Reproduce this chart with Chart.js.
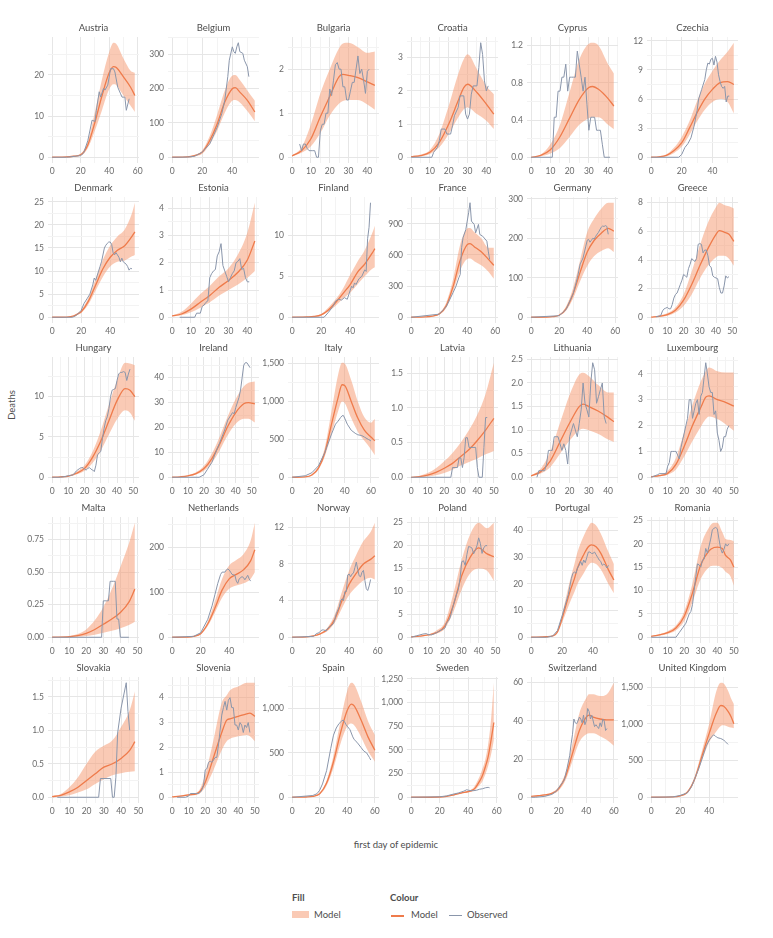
<!DOCTYPE html>
<html>
<head>
<meta charset="utf-8">
<script src="https://cdn.jsdelivr.net/npm/chart.js@4.4.1/dist/chart.umd.min.js"></script>
<style>
  body { margin: 0; background: #fff; }
  #wrap { position: relative; width: 773px; height: 938px; font-family: Lato, 'Noto Sans', sans-serif; color: #4d4d4d; }
  #wrap canvas { position: absolute; }
  .lbl { position: absolute; font-size: 9.5px; white-space: nowrap; line-height: 1; }
  .bold { font-weight: bold; }
</style>
</head>
<body>
<div id="wrap">
  <div class="lbl" style="left:12px; top:405px; transform: translate(-50%,-50%) rotate(-90deg);">Deaths</div>
  <div class="lbl" style="left:396px; top:845px; transform: translate(-50%,-50%);">first day of epidemic</div>

  <div class="lbl bold" style="left:292px; top:893px;">Fill</div>
  <div style="position:absolute; left:292px; top:911px; width:17px; height:7px; background:rgba(245,150,108,0.5);"></div>
  <div class="lbl" style="left:314px; top:910px;">Model</div>

  <div class="lbl bold" style="left:390px; top:893px;">Colour</div>
  <div style="position:absolute; left:391px; top:915px; width:13px; height:2px; background:#ef7b4b;"></div>
  <div class="lbl" style="left:411px; top:910px;">Model</div>
  <div style="position:absolute; left:449px; top:915px; width:13px; height:1px; background:#8a96ab;"></div>
  <div class="lbl" style="left:467px; top:910px;">Observed</div>
</div>
<script>
// Dane: jeden wpis na kraj, w tej samej kolejnosci co panele
const countries = ['Austria', 'Belgium', 'Bulgaria', 'Croatia', 'Cyprus', 'Czechia',
    'Denmark', 'Estonia', 'Finland', 'France', 'Germany', 'Greece',
    'Hungary', 'Ireland', 'Italy', 'Latvia', 'Lithuania', 'Luxembourg',
    'Malta', 'Netherlands', 'Norway', 'Poland', 'Portugal', 'Romania',
    'Slovakia', 'Slovenia', 'Spain', 'Sweden', 'Switzerland', 'United Kingdom'];

const xTicks = [
    [0, 20, 40, 60], [0, 20, 40], [0, 10, 20, 30, 40], [0, 10, 20, 30, 40], [0, 10, 20, 30, 40], [0, 20, 40],
    [0, 20, 40, 60], [0, 10, 20, 30, 40], [0, 20, 40, 60], [0, 20, 40, 60], [0, 20, 40, 60], [0, 10, 20, 30, 40, 50],
    [0, 10, 20, 30, 40, 50], [0, 10, 20, 30, 40, 50], [0, 20, 40, 60], [0, 10, 20, 30, 40, 50], [0, 10, 20, 30, 40], [0, 10, 20, 30, 40, 50],
    [0, 10, 20, 30, 40, 50], [0, 20, 40], [0, 20, 40, 60], [0, 10, 20, 30, 40, 50], [0, 20, 40], [0, 10, 20, 30, 40, 50],
    [0, 10, 20, 30, 40, 50], [0, 10, 20, 30, 40, 50], [0, 20, 40, 60], [0, 20, 40, 60], [0, 20, 40, 60], [0, 20, 40]
];

const yTicks = [
    [0, 10, 20], [0, 100, 200, 300], [0, 1, 2], [0, 1, 2, 3], [0, 0.4, 0.8, 1.2], [0, 3, 6, 9, 12],
    [0, 5, 10, 15, 20, 25], [0, 1, 2, 3, 4], [0, 5, 10], [0, 300, 600, 900], [0, 100, 200, 300], [0, 2, 4, 6, 8],
    [0, 5, 10, 15], [0, 10, 20, 30, 40], [0, 500, 1000, 1500], [0, 0.5, 1, 1.5], [0, 0.5, 1, 1.5, 2, 2.5], [0, 1, 2, 3, 4],
    [0, 0.25, 0.5, 0.75], [0, 100, 200], [0, 4, 8, 12], [0, 5, 10, 15, 20, 25], [0, 10, 20, 30, 40], [0, 5, 10, 15, 20, 25],
    [0, 0.5, 1, 1.5], [0, 1, 2, 3, 4], [0, 500, 1000], [0, 250, 500, 750, 1000, 1250], [0, 20, 40, 60], [0, 500, 1000, 1500]
];

const modelDays = [
    [0, 10, 15, 20, 25, 30, 35, 40, 43, 45, 50, 55, 58],
    [0, 10, 15, 20, 25, 30, 35, 40, 42, 45, 50, 55],
    [0, 5, 10, 15, 20, 25, 27, 30, 35, 40, 44],
    [0, 5, 10, 15, 20, 25, 28, 30, 35, 40, 44],
    [0, 5, 10, 15, 20, 25, 30, 32, 35, 40, 43],
    [0, 5, 10, 15, 20, 25, 30, 35, 40, 45, 50, 54],
    [0, 10, 15, 18, 20, 25, 30, 35, 40, 45, 50, 55, 57],
    [0, 5, 10, 15, 20, 25, 30, 35, 40, 44],
    [0, 10, 15, 20, 25, 30, 35, 40, 45, 50, 55, 57],
    [0, 10, 15, 20, 25, 30, 35, 40, 42, 45, 50, 55, 59],
    [0, 10, 15, 20, 25, 30, 35, 40, 45, 50, 55, 59],
    [0, 5, 10, 15, 20, 25, 30, 35, 40, 42, 45, 48, 51],
    [0, 5, 10, 15, 20, 25, 30, 35, 40, 45, 48, 51],
    [0, 5, 10, 15, 20, 25, 30, 35, 40, 45, 48, 52],
    [0, 10, 15, 20, 25, 30, 35, 38, 40, 45, 50, 55, 60, 63],
    [0, 5, 10, 15, 20, 25, 30, 35, 40, 45, 50],
    [0, 5, 10, 15, 20, 25, 27, 30, 35, 40, 43],
    [0, 5, 10, 15, 20, 25, 30, 33, 35, 40, 45, 50],
    [0, 10, 15, 20, 25, 30, 35, 40, 45, 48.5],
    [0, 10, 15, 20, 25, 30, 35, 40, 45, 50, 55, 58],
    [0, 10, 15, 20, 25, 30, 35, 40, 45, 50, 55, 58],
    [0, 5, 10, 15, 20, 25, 30, 35, 40, 45, 49],
    [0, 10, 14, 17, 20, 22, 25, 28, 30, 34, 37, 39, 42, 45, 50, 53.5],
    [0, 5, 10, 15, 20, 25, 30, 35, 38, 40, 43, 45, 48, 50],
    [0, 5, 10, 15, 20, 25, 30, 35, 40, 45, 48],
    [0, 5, 10, 15, 17, 20, 25, 30, 33, 35, 40, 45, 47, 50],
    [0, 10, 15, 20, 25, 30, 35, 40, 43, 45, 50, 55, 60],
    [0, 20, 25, 30, 35, 40, 43, 45, 48, 50, 52, 54, 56, 58],
    [0, 5, 10, 15, 20, 25, 30, 35, 40, 42, 45, 50, 55, 60],
    [0, 15, 20, 25, 30, 35, 40, 45, 48, 50, 53, 55, 57]
];

const modelMean = [
    [0, 0.1, 0.25, 0.6, 3, 8.5, 15, 20.5, 22, 21.8, 19.5, 17, 15],
    [0, 1, 5, 15, 49, 98, 161, 200, 203, 190, 166, 132],
    [0.03, 0.15, 0.42, 0.92, 1.38, 1.83, 1.88, 1.86, 1.81, 1.71, 1.63],
    [0.02, 0.05, 0.15, 0.45, 1.0, 1.7, 2.1, 2.2, 1.95, 1.6, 1.3],
    [0, 0.02, 0.08, 0.22, 0.42, 0.62, 0.75, 0.76, 0.73, 0.63, 0.55],
    [0, 0.05, 0.2, 0.7, 1.5, 3.0, 4.6, 6.0, 7.0, 7.7, 7.8, 7.5],
    [0, 0.05, 0.3, 0.8, 1.2, 3.5, 7.0, 10.5, 13.0, 14.5, 15.5, 17.5, 18.5],
    [0.05, 0.12, 0.3, 0.55, 0.8, 1.1, 1.35, 1.65, 2.1, 2.8],
    [0, 0.05, 0.1, 0.3, 0.9, 1.8, 2.9, 4.0, 5.5, 6.5, 7.8, 8.4],
    [0, 3, 10, 32, 110, 300, 550, 700, 710, 680, 630, 560, 500],
    [0, 0.5, 1.5, 5, 22, 60, 115, 165, 195, 213, 225, 218],
    [0.02, 0.08, 0.2, 0.5, 1.2, 2.3, 3.6, 4.8, 5.8, 6.05, 5.95, 5.8, 5.3],
    [0, 0.05, 0.15, 0.5, 1.1, 2.5, 4.5, 7.0, 9.5, 11.0, 10.8, 10.0],
    [0, 0.2, 0.6, 1.5, 3.5, 7.5, 13.5, 20.5, 26.0, 29.5, 30.0, 29.5],
    [0, 5, 30, 120, 330, 700, 1050, 1220, 1210, 1000, 780, 620, 530, 480],
    [0, 0.01, 0.03, 0.07, 0.13, 0.2, 0.3, 0.4, 0.53, 0.68, 0.85],
    [0.03, 0.12, 0.35, 0.75, 1.15, 1.5, 1.55, 1.5, 1.4, 1.27, 1.18],
    [0.02, 0.06, 0.15, 0.5, 1.2, 2.0, 2.7, 3.1, 3.15, 3.0, 2.9, 2.75],
    [0, 0.004, 0.012, 0.03, 0.06, 0.1, 0.14, 0.19, 0.27, 0.37],
    [0, 0.5, 2, 8, 30, 65, 105, 130, 140, 150, 170, 195],
    [0, 0.05, 0.15, 0.4, 0.9, 2.0, 4.0, 5.8, 7.0, 8.0, 8.5, 8.9],
    [0.1, 0.25, 0.5, 1.0, 2.5, 7, 13.5, 17.5, 19.5, 18.2, 17.6],
    [0, 0.2, 0.5, 2, 7, 11, 17, 22, 26, 31, 34, 34.7, 34, 31.6, 25.3, 21.5],
    [0.2, 0.5, 1.0, 2.0, 4.5, 9.5, 15.5, 18.5, 19.2, 19.3, 19.0, 17.5, 16.5, 15.0],
    [0.01, 0.03, 0.08, 0.15, 0.25, 0.35, 0.45, 0.5, 0.58, 0.7, 0.83],
    [0.02, 0.05, 0.1, 0.15, 0.25, 0.6, 1.6, 2.6, 3.1, 3.15, 3.25, 3.35, 3.38, 3.25],
    [0, 3, 10, 40, 160, 400, 720, 980, 1050, 1030, 870, 680, 530],
    [0, 3, 10, 25, 45, 60, 75, 100, 170, 230, 320, 430, 600, 790],
    [0.5, 0.8, 1.2, 2, 4.5, 11, 23, 35, 42, 43, 42, 41, 40.5, 40.5],
    [0, 5, 20, 70, 250, 560, 870, 1150, 1250, 1240, 1170, 1100, 1000]
];

const modelLow = [
    [0, 0.05, 0.15, 0.4, 2.2, 6.5, 11.5, 16.5, 17.7, 17.5, 15, 12.5, 11],
    [0, 0.5, 3, 10, 38, 78, 130, 165, 167, 160, 135, 105],
    [0.02, 0.1, 0.25, 0.55, 0.95, 1.22, 1.28, 1.3, 1.3, 1.2, 1.08],
    [0.01, 0.03, 0.1, 0.3, 0.7, 1.2, 1.45, 1.5, 1.3, 1.1, 0.85],
    [0, 0.01, 0.04, 0.1, 0.22, 0.35, 0.42, 0.43, 0.43, 0.35, 0.3],
    [0, 0.03, 0.12, 0.45, 1.1, 2.3, 3.7, 4.9, 5.7, 6.0, 5.7, 4.5],
    [0, 0.03, 0.2, 0.6, 0.9, 2.8, 5.8, 8.8, 11.0, 12.0, 12.3, 13.2, 13.5],
    [0.03, 0.07, 0.18, 0.35, 0.55, 0.8, 1.0, 1.2, 1.45, 1.7],
    [0, 0.03, 0.07, 0.2, 0.7, 1.4, 2.3, 3.0, 4.0, 5.0, 5.9, 6.1],
    [0, 2, 7, 25, 90, 250, 450, 560, 565, 540, 500, 440, 370],
    [0, 0.3, 1, 4, 17, 48, 92, 130, 155, 168, 175, 165],
    [0.01, 0.05, 0.12, 0.35, 0.8, 1.6, 2.7, 3.6, 4.2, 4.3, 4.3, 4.1, 3.6],
    [0, 0.03, 0.1, 0.35, 0.8, 1.8, 3.3, 5.3, 7.2, 8.3, 8.0, 7.0],
    [0, 0.1, 0.4, 1.1, 2.6, 5.8, 11.0, 17.0, 21.5, 23.5, 23.5, 22.0],
    [0, 3, 20, 100, 280, 570, 870, 1000, 980, 780, 600, 480, 370, 290],
    [0, 0.005, 0.01, 0.03, 0.06, 0.11, 0.17, 0.22, 0.27, 0.33, 0.38],
    [0.02, 0.08, 0.22, 0.5, 0.78, 1.0, 1.03, 1.0, 0.92, 0.8, 0.75],
    [0.01, 0.04, 0.1, 0.3, 0.8, 1.4, 1.95, 2.25, 2.35, 2.25, 2.05, 1.8],
    [0, 0.001, 0.004, 0.01, 0.02, 0.035, 0.05, 0.07, 0.095, 0.12],
    [0, 0.3, 1.5, 6, 25, 55, 88, 108, 115, 120, 130, 145],
    [0, 0.03, 0.1, 0.3, 0.7, 1.6, 3.2, 4.6, 5.5, 6.2, 6.5, 6.3],
    [0.05, 0.15, 0.4, 0.8, 1.9, 5.5, 10.5, 14.0, 15.0, 14.5, 12.3],
    [0, 0.15, 0.4, 1.5, 5.5, 8.5, 13, 17, 20, 24, 27, 28, 27.5, 25.5, 20, 16.5],
    [0.15, 0.35, 0.7, 1.5, 3.5, 7.5, 12.5, 15.0, 15.3, 15.3, 14.8, 14.0, 13.0, 11.0],
    [0.005, 0.01, 0.03, 0.07, 0.12, 0.2, 0.27, 0.33, 0.36, 0.38, 0.39],
    [0.01, 0.03, 0.07, 0.1, 0.17, 0.4, 1.1, 1.9, 2.25, 2.35, 2.45, 2.5, 2.45, 2.25],
    [0, 2, 7, 30, 130, 330, 600, 800, 830, 810, 680, 520, 400],
    [0, 2, 8, 20, 38, 50, 60, 80, 130, 170, 240, 330, 450, 600],
    [0.3, 0.5, 0.8, 1.5, 3.5, 9, 19, 29, 33, 33.5, 33.5, 32, 30, 27],
    [0, 4, 15, 55, 220, 500, 750, 900, 970, 980, 960, 950, 940]
];

const modelHigh = [
    [0, 0.15, 0.35, 0.8, 3.8, 11, 19, 25.5, 27.8, 27.5, 24, 21, 20.5],
    [0, 1.5, 7, 20, 62, 125, 195, 238, 240, 225, 195, 165],
    [0.04, 0.22, 0.75, 1.45, 2.0, 2.48, 2.58, 2.6, 2.5, 2.37, 2.4],
    [0.03, 0.08, 0.22, 0.7, 1.55, 2.5, 2.95, 3.1, 2.65, 2.15, 1.9],
    [0, 0.03, 0.14, 0.35, 0.7, 1.05, 1.22, 1.23, 1.2, 1.0, 0.9],
    [0, 0.08, 0.3, 1.0, 2.1, 3.7, 5.8, 7.6, 8.9, 10.0, 10.9, 11.8],
    [0, 0.08, 0.4, 1.0, 1.5, 4.2, 8.3, 12.5, 15.5, 17.5, 19.0, 22.5, 24.8],
    [0.06, 0.2, 0.5, 0.85, 1.15, 1.5, 1.8, 2.3, 3.1, 4.2],
    [0, 0.08, 0.15, 0.4, 1.2, 2.2, 3.5, 5.2, 6.8, 8.2, 10.2, 11.2],
    [0, 4, 13, 40, 140, 370, 700, 855, 860, 820, 760, 670, 670],
    [0, 0.7, 2, 6, 28, 75, 145, 215, 250, 275, 290, 290],
    [0.03, 0.12, 0.3, 0.7, 1.6, 3.2, 5.0, 6.6, 7.7, 8.0, 7.85, 7.75, 7.6],
    [0, 0.07, 0.2, 0.7, 1.5, 3.2, 5.8, 9.0, 12.0, 14.2, 14.1, 13.9],
    [0, 0.3, 0.8, 2.0, 4.5, 9.5, 16.5, 24.5, 31.5, 36.5, 38.0, 38.5],
    [0, 7, 40, 140, 400, 870, 1350, 1510, 1500, 1280, 1000, 790, 720, 770],
    [0, 0.02, 0.06, 0.13, 0.23, 0.35, 0.5, 0.68, 0.9, 1.2, 1.65],
    [0.04, 0.18, 0.55, 1.15, 1.75, 2.18, 2.22, 2.15, 1.95, 1.8, 1.8],
    [0.03, 0.09, 0.25, 0.75, 1.75, 2.8, 3.7, 4.1, 4.25, 4.1, 4.05, 4.05],
    [0, 0.008, 0.025, 0.06, 0.13, 0.23, 0.37, 0.54, 0.72, 0.88],
    [0, 0.7, 2.5, 10, 35, 80, 130, 160, 172, 185, 215, 255],
    [0, 0.07, 0.2, 0.5, 1.1, 2.5, 5.0, 7.3, 9.0, 10.5, 11.5, 12.5],
    [0.15, 0.35, 0.6, 1.5, 3.3, 9.5, 17.0, 22.5, 25.0, 23.8, 25.0],
    [0, 0.25, 0.6, 2.5, 8.5, 13.5, 21, 27.5, 32, 38, 41.5, 43, 42, 39, 32, 27.5],
    [0.25, 0.65, 1.3, 2.5, 5.5, 11.5, 19.5, 23.5, 24.5, 24.5, 22.5, 21.0, 20.8, 20.5],
    [0.015, 0.05, 0.15, 0.3, 0.5, 0.68, 0.77, 0.85, 1.05, 1.3, 1.58],
    [0.03, 0.07, 0.13, 0.2, 0.35, 0.9, 2.3, 3.8, 4.1, 4.3, 4.45, 4.6, 4.6, 4.6],
    [0, 4, 13, 50, 190, 470, 850, 1200, 1290, 1270, 1080, 860, 700],
    [0, 4, 12, 30, 52, 70, 90, 130, 220, 300, 400, 560, 820, 1210],
    [0.7, 1.1, 1.6, 2.5, 5.5, 13, 28, 44, 52, 54, 54, 53, 54, 60],
    [0, 6, 25, 85, 280, 630, 1000, 1450, 1560, 1550, 1450, 1350, 1270]
];

const obsDays = [
    [0, 10, 20, 22, 23, 25, 28, 30, 31, 33, 34, 36, 37, 39, 41, 43, 44, 46, 48, 49, 51, 52, 54],
    [0, 10, 15, 20, 25, 30, 33, 35, 37, 38, 40, 41, 42, 43, 44, 45, 47, 48, 50, 51],
    [4, 5, 6, 7, 8, 9, 10, 11, 12, 13, 14, 15, 16, 17, 18, 19, 20, 21, 22, 23, 24, 25, 26, 27, 28, 29, 30, 31, 32, 33, 34, 35, 36, 37, 38, 39, 40, 41],
    [0, 11, 12, 14, 15, 16, 18, 19, 21, 22, 23, 25, 26, 28, 29, 30, 31, 32, 33, 35, 36, 37, 38, 39, 40, 41],
    [0, 11, 12, 13, 14, 15, 16, 17, 18, 19, 20, 21, 22, 23, 24, 25, 26, 27, 28, 29, 30, 31, 32, 33, 34, 35, 36, 37, 38, 41],
    [0, 18, 20, 22, 24, 26, 28, 30, 31, 33, 35, 36, 37, 38, 39, 40, 41, 42, 43, 44, 45, 46, 47, 48, 49, 50, 51],
    [0, 14, 16, 18, 20, 22, 24, 26, 28, 29, 30, 32, 33, 34, 36, 37, 38, 39, 40, 41, 42, 43, 44, 45, 46, 47, 48, 49, 51, 52, 53, 54, 55],
    [4, 12, 13, 15, 16, 17, 18, 19, 20, 21, 22, 23, 24, 25, 26, 27, 28, 29, 30, 31, 32, 33, 34, 35, 36, 37, 38, 39, 40, 41],
    [0, 22, 25, 28, 30, 32, 34, 36, 38, 40, 41, 42, 43, 44, 46, 48, 50, 51, 52, 53, 54],
    [0, 20, 25, 30, 32, 34, 35, 36, 37, 39, 40, 41, 42, 43, 45, 46, 48, 49, 51, 54, 55, 56],
    [0, 20, 25, 30, 33, 35, 37, 39, 40, 41, 42, 43, 44, 45, 46, 48, 50, 51, 52, 53, 54, 55],
    [3, 5, 6, 7, 8, 9, 10, 11, 12, 13, 14, 15, 16, 17, 18, 19, 20, 21, 22, 23, 24, 25, 26, 27, 28, 29, 30, 31, 32, 33, 34, 35, 36, 37, 38, 39, 40, 41, 42, 43, 44, 45, 46, 47, 48],
    [0, 5, 8, 10, 13, 15, 17, 18, 19, 20, 21, 22, 23, 24, 25, 26, 27, 28, 29, 30, 31, 32, 33, 34, 35, 36, 37, 38, 39, 40, 41, 42, 43, 44, 45, 46, 47, 48],
    [0, 17, 20, 22, 25, 28, 30, 33, 35, 37, 38, 39, 40, 42, 43, 44, 45, 46, 47, 49],
    [0, 10, 15, 20, 25, 30, 33, 35, 37, 38, 39, 40, 42, 45, 48, 50, 53, 55, 58, 60],
    [0, 24, 25, 28, 29, 30, 31, 32, 33, 34, 35, 39, 40, 41, 43, 44, 45, 46],
    [3, 4, 5, 6, 7, 8, 9, 10, 11, 12, 13, 14, 15, 16, 17, 18, 19, 20, 21, 22, 23, 24, 25, 26, 27, 28, 29, 30, 31, 32, 33, 34, 35, 36, 37, 38, 39],
    [0, 4, 5, 9, 10, 11, 12, 13, 14, 15, 16, 17, 18, 19, 20, 21, 22, 23, 24, 25, 26, 27, 28, 29, 30, 31, 32, 33, 34, 35, 36, 37, 38, 39, 40, 41, 42, 43, 44, 45, 46, 47],
    [0, 29, 30, 32, 33, 34, 35, 36, 37, 38, 39, 40, 45],
    [0, 15, 20, 25, 28, 30, 32, 34, 35, 37, 38, 39, 40, 41, 42, 44, 45, 46, 47, 49, 50, 51, 53, 54, 55],
    [0, 15, 17, 19, 20, 21, 22, 24, 25, 27, 29, 30, 31, 33, 34, 35, 36, 37, 38, 39, 40, 41, 42, 43, 44, 45, 46, 47, 48, 49, 50, 51, 52, 53, 54, 55],
    [0, 3, 5, 7, 9, 10, 12, 14, 16, 18, 20, 21, 22, 23, 25, 27, 28, 29, 30, 31, 32, 33, 34, 35, 36, 37, 38, 39, 40, 41, 42, 43, 44, 45],
    [0, 10, 14, 17, 20, 22, 24, 25, 26, 27, 28, 29, 30, 31, 32, 33, 34, 35, 36, 37, 38, 39, 40, 41, 42, 43, 44, 45, 46, 47, 48, 49, 50],
    [0, 15, 17, 19, 21, 23, 24, 25, 26, 27, 28, 29, 30, 31, 32, 33, 34, 35, 36, 37, 38, 39, 40, 41, 42, 43, 44, 45, 46, 47],
    [3, 27, 28, 34, 35, 36, 37, 38, 40, 43, 44, 45],
    [3, 8, 10, 11, 12, 14, 16, 17, 18, 19, 20, 21, 22, 23, 24, 25, 26, 27, 28, 29, 30, 31, 32, 33, 34, 35, 36, 37, 38, 39, 40, 41, 42, 43, 44, 45, 46, 47],
    [0, 15, 18, 20, 22, 25, 28, 30, 32, 34, 36, 37, 38, 39, 40, 41, 42, 44, 45, 47, 48, 50, 52, 54, 56, 57],
    [0, 20, 25, 30, 33, 35, 37, 39, 40, 42, 44, 46, 48, 50, 52, 54, 55],
    [0, 3, 10, 15, 18, 20, 22, 24, 26, 28, 29, 30, 31, 32, 33, 34, 35, 36, 37, 38, 39, 40, 41, 42, 43, 44, 45, 46, 47, 48, 49, 50, 51, 52, 53, 54, 55],
    [0, 15, 20, 25, 28, 30, 33, 35, 38, 40, 42, 43, 44, 45, 46, 48, 50, 51, 52, 53]
];

const obsDeaths = [
    [0, 0, 0.4, 1, 2, 4, 9, 8.7, 11.4, 15.9, 14.6, 16.7, 16.3, 17.5, 21.5, 21.5, 20.7, 17, 15.4, 14.6, 14.6, 11.4, 14.2],
    [0, 0.5, 3, 15, 39, 88, 127, 166, 235, 283, 322, 308, 303, 322, 334, 308, 303, 283, 264, 235],
    [0.3, 0.15, 0.3, 0.3, 0.2, 0.15, 0.15, 0.15, 0.15, 0, 0, 0.6, 0.75, 0.75, 1.0, 1.0, 1.55, 1.4, 1.75, 2.1, 2.15, 2.0, 2.0, 1.6, 1.6, 1.3, 1.3, 1.5, 1.7, 1.7, 2.0, 2.3, 1.9, 2.0, 1.75, 1.45, 1.95, 2.0],
    [0, 0, 0.15, 0.3, 0.5, 0.85, 0.85, 0.7, 0.7, 0.95, 1.25, 1.5, 1.85, 1.85, 1.3, 1.15, 1.3, 1.9, 2.15, 2.15, 2.7, 3.45, 3.1, 2.3, 2.0, 2.15],
    [0, 0, 0.43, 0.43, 0.71, 0.71, 0.86, 0.86, 1.0, 0.71, 0.86, 0.86, 0.86, 0.86, 1.14, 1.0, 0.86, 0.71, 0.86, 0.57, 0.29, 0.43, 0.43, 0.43, 0.29, 0.29, 0.29, 0.14, 0, 0],
    [0, 0, 0.3, 1.0, 1.4, 2.0, 3.2, 4.8, 6.0, 7.0, 8.0, 9.0, 9.7, 9.6, 10.1, 10.2, 9.5, 10.4, 9.8, 8.5, 7.8, 7.3, 7.1, 7.3, 5.7, 6.3, 6.3],
    [0, 0, 0.3, 0.8, 1.5, 3.0, 4.0, 5.0, 7.0, 8.5, 8.0, 10.0, 11.0, 12.0, 15.0, 15.6, 16.0, 16.3, 16.3, 15.8, 14.0, 13.5, 14.0, 13.5, 13.0, 12.0, 12.8, 12.0, 11.5, 11.0, 10.2, 10.6, 10.5],
    [0, 0, 0.15, 0.15, 0.4, 0.45, 0.55, 0.6, 1.45, 1.6, 1.7, 1.75, 2.25, 2.4, 2.7, 1.9, 1.7, 1.5, 1.3, 1.45, 1.6, 1.7, 2.0, 2.05, 2.15, 1.75, 1.8, 1.45, 1.3, 1.3],
    [0, 0, 0.6, 1.3, 2.0, 2.2, 2.1, 2.4, 2.2, 3.3, 3.8, 3.6, 4.2, 4.0, 4.7, 5.0, 5.8, 5.6, 9.6, 11.0, 14.0],
    [0, 30, 100, 240, 300, 380, 412, 670, 765, 845, 926, 1006, 1103, 926, 894, 813, 894, 797, 781, 733, 637, 556],
    [0, 4, 20, 60, 100, 135, 150, 180, 195, 197, 190, 195, 200, 198, 205, 215, 228, 231, 230, 232, 230, 210],
    [0.05, 0.1, 0.15, 0.45, 0.6, 0.65, 0.7, 0.6, 0.6, 0.9, 1.35, 1.6, 1.7, 2.0, 2.3, 2.6, 3.0, 2.9, 2.8, 3.4, 3.7, 4.1, 4.0, 3.9, 4.1, 5.1, 5.15, 5.1, 4.5, 4.7, 4.7, 4.3, 3.6, 3.5, 2.9, 2.8, 2.75, 2.7, 2.1, 1.7, 1.7, 2.2, 2.9, 2.75, 2.85],
    [0, 0, 0.1, 0.2, 0.3, 0.8, 1.1, 1.2, 1.2, 1.0, 0.9, 1.1, 1.2, 1.0, 0.9, 0.7, 1.5, 2.8, 3.0, 3.2, 4.8, 6.0, 7.0, 7.5, 8.5, 10.0, 10.8, 10.9, 11.0, 12.0, 12.8, 13.0, 13.0, 13.1, 13.0, 12.0, 12.8, 13.4],
    [0, 0, 1, 3, 6, 11, 14, 19, 23, 25, 26, 25.5, 28, 32, 35, 40, 45, 46, 46, 44],
    [0, 20, 60, 150, 330, 570, 700, 740, 790, 810, 815, 780, 700, 620, 580, 560, 550, 530, 500, 480],
    [0, 0, 0.14, 0.14, 0.28, 0.28, 0.14, 0.28, 0.57, 0.57, 0.43, 0.43, 0.14, 0, 0, 0.43, 0.86, 0.86],
    [0, 0.14, 0.14, 0.14, 0.14, 0.28, 0.57, 0.57, 0.57, 0.86, 0.86, 0.86, 0.71, 0.57, 0.71, 0.57, 0.28, 0.86, 1.0, 1.14, 1.0, 0.86, 1.14, 1.43, 2.0, 1.57, 1.43, 1.28, 2.0, 2.43, 2.28, 1.57, 1.71, 1.86, 2.0, 1.28, 1.14],
    [0, 0.1, 0.14, 0.14, 0.43, 0.57, 1.0, 1.0, 1.0, 1.0, 0.86, 0.71, 1.14, 1.43, 1.71, 2.0, 2.28, 3.0, 3.0, 2.28, 2.57, 2.86, 3.0, 2.43, 3.14, 3.28, 3.86, 4.43, 4.0, 3.5, 3.28, 3.28, 2.43, 2.57, 1.71, 1.43, 1.0, 1.14, 1.57, 1.57, 1.86, 2.0],
    [0, 0, 0.28, 0.28, 0.28, 0.43, 0.43, 0.43, 0.43, 0.14, 0.14, 0, 0],
    [0, 2, 10, 40, 70, 95, 120, 140, 145, 145, 150, 152, 150, 145, 140, 138, 125, 120, 130, 135, 133, 128, 138, 130, 125],
    [0, 0.1, 0.4, 0.5, 0.7, 0.8, 0.8, 0.7, 1.0, 1.2, 1.5, 2.0, 2.6, 3.3, 4.0, 4.2, 4.0, 5.0, 5.0, 6.8, 6.9, 6.6, 6.9, 7.0, 7.6, 8.2, 7.4, 6.7, 6.6, 7.1, 7.3, 6.2, 5.3, 5.1, 5.6, 6.3],
    [0, 0.3, 0.5, 0.7, 0.8, 0.6, 0.5, 0.8, 1.2, 1.6, 2.0, 3.2, 3.5, 4.2, 7.0, 9.5, 10.5, 13.0, 16.5, 16.7, 15.7, 18.0, 19.8, 19.7, 19.5, 18.2, 19.0, 20.0, 21.7, 20.5, 18.3, 19.5, 20.0, 20.0],
    [0, 0, 0.5, 2.5, 8, 12, 16, 19, 22, 24, 24.5, 24, 26, 27, 28.5, 27, 29, 28, 30, 32, 32, 31.5, 31.5, 32, 31, 30, 29, 28.5, 27, 27.5, 27, 26, 27],
    [0, 0, 1.0, 2.0, 3.0, 5.0, 5.5, 7, 10, 13, 15.7, 15.5, 15.0, 16.5, 16.7, 19.0, 18.0, 19.5, 21.0, 23, 23.3, 23.5, 23.2, 21.0, 19.0, 18.0, 18.8, 20.0, 19.5, 20.0],
    [0, 0, 0.28, 0.28, 0, 0, 0.3, 0.96, 1.33, 1.71, 1.28, 1.0],
    [0, 0, 0.05, 0.15, 0.15, 0.15, 0.15, 0.2, 0.3, 0.5, 1.1, 1.15, 1.4, 1.45, 1.4, 1.5, 1.6, 1.6, 2.1, 2.7, 3.3, 3.6, 3.85, 3.5, 3.9, 4.0, 3.6, 3.6, 2.9, 2.9, 2.7, 3.0, 2.9, 2.6, 2.9, 2.8, 3.0, 2.6],
    [0, 20, 40, 80, 150, 300, 550, 700, 780, 830, 860, 870, 850, 820, 800, 780, 760, 680, 650, 620, 600, 560, 520, 500, 450, 420],
    [0, 5, 15, 35, 45, 55, 65, 80, 75, 70, 70, 75, 85, 90, 100, 105, 100],
    [0, 0, 0.5, 1.5, 3, 5, 7, 9, 15, 22, 28, 33, 41, 39, 38.5, 40, 42, 41, 39, 43, 38, 40, 46.5, 45, 41, 43, 40, 37, 38, 37, 36, 39, 37, 41, 40, 35, 36],
    [0, 5, 25, 60, 150, 250, 400, 520, 700, 780, 830, 850, 840, 820, 810, 800, 780, 760, 740, 720]
];

// Wymiary paneli (w pikselach)
const AXIS_W = 34, PLOT_W = 91, RIGHT_PAD = 8, TOP_PAD = 20, PLOT_H = 126, X_AXIS_H = 16;
const COL_X0 = 48, COL_STEP = 119.8, ROW_Y0 = 37, ROW_STEP = 160;

const bandColor = 'rgba(245, 150, 108, 0.5)';
const modelColor = '#ef7b4b';
const obsColor = '#8a96ab';
const majorGrid = '#e6e6e6';
const minorGrid = '#f3f3f3';

Chart.defaults.font.family = "Lato, 'Noto Sans', sans-serif";
Chart.defaults.font.size = 8.5;
Chart.defaults.color = '#6b6b6b';

// Tytul panelu nad obszarem wykresu
const panelTitle = {
    id: 'panelTitle',
    afterDraw(chart, args, opts) {
        const a = chart.chartArea;
        const c = chart.ctx;
        c.save();
        c.font = "9.5px Lato, 'Noto Sans', sans-serif";
        c.fillStyle = '#4d4d4d';
        c.textAlign = 'center';
        c.textBaseline = 'middle';
        c.fillText(opts.text, (a.left + a.right) / 2, a.top - 9);
        c.restore();
    }
};

function expand(lo, hi) {
    const pad = (hi - lo) * 0.05;
    return [lo - pad, hi + pad];
}

function decimals(list) {
    return Math.max(...list.map(v => {
        const s = String(v);
        return s.includes('.') ? s.split('.')[1].length : 0;
    }));
}

function buildTicks(majors, min, max) {
    const step = majors[1] - majors[0];
    const minors = [majors[0] - step / 2].concat(majors.map(v => v + step / 2));
    return majors.concat(minors)
        .filter(v => v >= min && v <= max)
        .sort((a, b) => a - b)
        .map(v => ({ value: v }));
}

function makeAxis(majors, range, isX) {
    const dec = decimals(majors);
    const fmt = v => v.toLocaleString('en-US', { minimumFractionDigits: dec, maximumFractionDigits: dec });
    const isMajor = v => majors.some(m => Math.abs(m - v) < 1e-9);
    return {
        type: 'linear',
        min: range[0],
        max: range[1],
        afterBuildTicks: scale => { scale.ticks = buildTicks(majors, range[0], range[1]); },
        afterFit: scale => {
            if (isX) {
                scale.height = X_AXIS_H;
                scale.paddingLeft = 0;
                scale.paddingRight = 0;
            } else {
                scale.width = AXIS_W;
                scale.paddingTop = 0;
                scale.paddingBottom = 0;
            }
        },
        border: { display: false },
        grid: {
            drawTicks: false,
            lineWidth: 1,
            color: ctx => (ctx.tick && isMajor(ctx.tick.value)) ? majorGrid : minorGrid
        },
        ticks: {
            autoSkip: false,
            maxRotation: 0,
            padding: isX ? 3 : 4,
            callback: v => isMajor(v) ? fmt(v) : ''
        }
    };
}

const wrap = document.getElementById('wrap');

countries.forEach(function(name, i) {
    const col = i % 6;
    const row = Math.floor(i / 6);
    const canvas = document.createElement('canvas');
    canvas.width = AXIS_W + PLOT_W + RIGHT_PAD;
    canvas.height = TOP_PAD + PLOT_H + X_AXIS_H;
    canvas.style.left = (COL_X0 + col * COL_STEP - AXIS_W) + 'px';
    canvas.style.top = (ROW_Y0 + row * ROW_STEP - TOP_PAD) + 'px';
    wrap.appendChild(canvas);

    const pts = (xs, ys) => xs.map((x, k) => ({ x: x, y: ys[k] }));
    const allX = modelDays[i].concat(obsDays[i]);
    const allY = modelLow[i].concat(modelHigh[i], obsDeaths[i]);
    const xRange = expand(Math.min(...allX), Math.max(...allX));
    const yRange = expand(Math.min(...allY), Math.max(...allY));

    new Chart(canvas.getContext('2d'), {
        type: 'line',
        data: {
            datasets: [
                {
                    data: pts(modelDays[i], modelHigh[i]),
                    borderWidth: 0,
                    pointRadius: 0,
                    backgroundColor: bandColor,
                    fill: '+1',
                    cubicInterpolationMode: 'monotone',
                    order: 3
                },
                {
                    data: pts(modelDays[i], modelLow[i]),
                    borderWidth: 0,
                    pointRadius: 0,
                    fill: false,
                    cubicInterpolationMode: 'monotone',
                    order: 3
                },
                {
                    data: pts(modelDays[i], modelMean[i]),
                    borderColor: modelColor,
                    borderWidth: 1.3,
                    pointRadius: 0,
                    fill: false,
                    cubicInterpolationMode: 'monotone',
                    order: 2
                },
                {
                    data: pts(obsDays[i], obsDeaths[i]),
                    borderColor: obsColor,
                    borderWidth: 1,
                    pointRadius: 0,
                    fill: false,
                    tension: 0,
                    order: 1
                }
            ]
        },
        options: {
            responsive: false,
            animation: false,
            events: [],
            layout: { padding: { top: TOP_PAD, left: 0, right: RIGHT_PAD, bottom: 0 } },
            plugins: {
                legend: { display: false },
                tooltip: { enabled: false },
                panelTitle: { text: name }
            },
            scales: {
                x: makeAxis(xTicks[i], xRange, true),
                y: makeAxis(yTicks[i], yRange, false)
            }
        },
        plugins: [panelTitle]
    });
});
</script>
</body>
</html>
